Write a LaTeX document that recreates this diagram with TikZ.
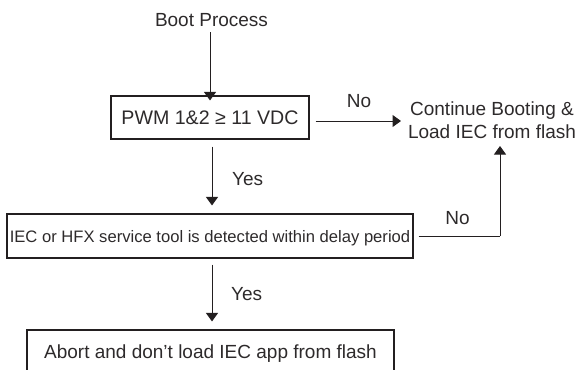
\documentclass[tikz,border=0pt]{standalone}
\usepackage{fontspec}
\setmainfont{Liberation Sans}
\usetikzlibrary{arrows.meta}
\definecolor{ink}{RGB}{35,31,32}
\definecolor{txt}{RGB}{45,42,43}
\tikzset{
  every node/.style={text=txt, font=\fontsize{19}{23}\selectfont},
  box/.style={draw=ink, line width=1.1pt, inner sep=0pt, text height=13.6pt, text depth=0pt},
  lbl/.style={anchor=base, inner sep=0pt},
  conn/.style={draw=ink, line width=1pt, -{Triangle[width=12pt,length=8.5pt]}},
  plain/.style={draw=ink, line width=1pt},
}
\begin{document}
\begin{tikzpicture}[x=1pt,y=-1pt]
\useasboundingbox (0,0) rectangle (580,369);
% nodes
\node[lbl] (boot) at (211.5,27) {Boot Process};
\node[box, minimum width=198pt, minimum height=43pt, font=\fontsize{19.6}{23}\selectfont] (pwm) at (210,117.5) {PWM 1\&2 ≥ 11 VDC};
\node[lbl, align=center] (cont) at (492,138) {Continue Booting \&\\Load IEC from flash};
\node[box, minimum width=406pt, minimum height=44pt, font=\fontsize{16.6}{20}\selectfont, text height=12pt] (iec) at (210,236) {IEC or HFX service tool is detected within delay period};
\node[box, minimum width=367pt, minimum height=44pt] (abort) at (210.5,352) {Abort and don’t load IEC app from flash};
% labels
\node[lbl] (no1) at (359,107) {No};
\node[lbl, anchor=base west] (yes1) at (232,185) {Yes};
\node[lbl, anchor=base west] (yes2) at (231,300) {Yes};
\node[lbl] (no2) at (457.5,224) {No};
% connectors
\coordinate (bend) at (500,236);
\coordinate (upend) at (500,146);
\draw[conn] (boot.south -| pwm.north) ++(0,5) -- ([yshift=-5pt]pwm.north);
\draw[conn] ([xshift=6pt,yshift=-3.5pt]pwm.east) -- (401,121);
\draw[conn, shorten <=7pt, shorten >=8pt] (212,0 |- pwm.south) -- (212,0 |- iec.north);
\draw[conn, shorten <=6pt, shorten >=8pt] (212,0 |- iec.south) -- (212,0 |- abort.north);
\draw[plain] ([xshift=5pt]iec.east) -- (bend);
\draw[conn] (bend) -- (upend);
\end{tikzpicture}
\end{document}
